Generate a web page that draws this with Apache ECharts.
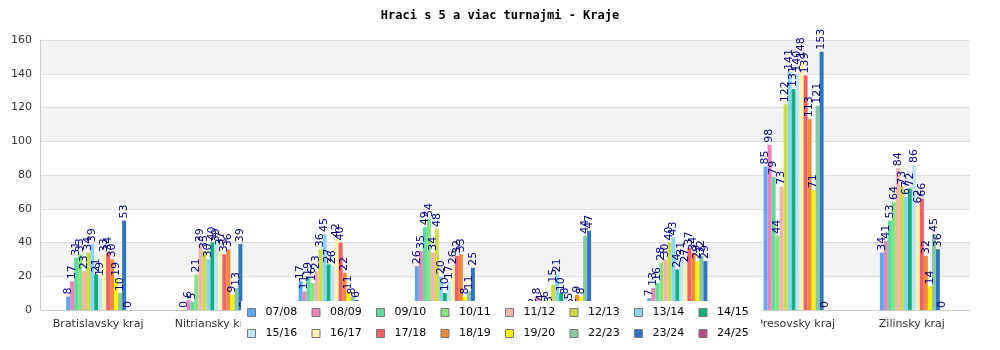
<!DOCTYPE html>
<html>
<head>
<meta charset="utf-8">
<script src="https://cdn.jsdelivr.net/npm/echarts@6/dist/echarts.min.js"></script>
<style>
  html, body { margin: 0; padding: 0; background: #fff; }
  #chart { width: 1000px; height: 350px; }
</style>
</head>
<body>
<div id="chart"></div>
<script>
// Regions on the category axis
const regions = [
  'Bratislavsky kraj', 'Nitriansky kraj', 'Trnavsky kraj', 'Trenciansky kraj',
  'Banskobystricky kraj', 'Kosicky kraj', 'Presovsky kraj', 'Zilinsky kraj'
];

// Seasons (one bar per season in every region)
const seasons = [
  '07/08', '08/09', '09/10', '10/11', '11/12', '12/13', '13/14', '14/15',
  '15/16', '16/17', '17/18', '18/19', '19/20', '22/23', '23/24', '24/25'
];

// Players with 5+ tournaments, per season, in region order
const s0708 = [8, 0, 17, 26, 2, 7, 85, 34];
const s0809 = [17, 6, 11, 35, 8, 13, 98, 41];
const s0910 = [31, 5, 19, 49, 4, 16, 79, 53];
const s1011 = [33, 21, 16, 54, 6, 28, 44, 64];
const s1112 = [23, 39, 23, 34, 3, 30, 73, 84];
const s1213 = [34, 35, 36, 48, 15, 40, 122, 73];
const s1314 = [39, 30, 45, 20, 21, 43, 141, 67];
const s1415 = [21, 40, 27, 10, 10, 24, 131, 72];
const s1516 = [19, 39, 26, 17, 8, 31, 140, 86];
const s1617 = [33, 37, 42, 26, 5, 27, 148, 62];
const s1718 = [34, 33, 40, 32, 2, 37, 139, 66];
const s1819 = [30, 36, 22, 33, 9, 34, 113, 32];
const s1920 = [19, 9, 11, 8, 8, 29, 71, 14];
const s2223 = [10, 13, 8, 11, 44, 32, 121, 45];
const s2324 = [53, 39, 6, 25, 47, 29, 153, 36];
const s2425 = [0, 0, 0, 0, 0, 0, 0, 0];

const seasonValues = [
  s0708, s0809, s0910, s1011, s1112, s1213, s1314, s1415,
  s1516, s1617, s1718, s1819, s1920, s2223, s2324, s2425
];

const seasonColors = [
  '#5fa7ef', '#ec83b9', '#5fdba0', '#86e47e', '#f5b3ae', '#cddc45', '#8ad6ef', '#12ae7c',
  '#bfe3f7', '#fff2ad', '#ef6166', '#ef8a38', '#fff200', '#86c8a0', '#2f75c0', '#b94a87'
];

// Y axis ticks
const yMin = 0, yMax = 160, yStep = 20;

const series = seasons.map((name, i) => ({
  name: name,
  type: 'bar',
  data: seasonValues[i],
  barWidth: 4,
  barGap: '0%',
  itemStyle: { color: seasonColors[i] },
  label: {
    show: true,
    position: 'top',
    rotate: 90,
    align: 'left',
    verticalAlign: 'middle',
    distance: 3,
    offset: [-1, 0],
    color: '#000080',
    fontSize: 11,
    fontFamily: 'DejaVu Sans'
  }
}));

const chart = echarts.init(document.getElementById('chart'), null, { renderer: 'canvas' });
chart.setOption({
  animation: false,
  backgroundColor: '#ffffff',
  title: {
    text: 'Hraci s 5 a viac turnajmi - Kraje',
    left: 'center',
    top: 5,
    textStyle: {
      fontFamily: 'DejaVu Sans Mono',
      fontWeight: 'bold',
      fontSize: 12,
      color: '#000'
    }
  },
  grid: { left: 40, right: 30, top: 40, bottom: 40 },
  legend: {
    data: seasons,
    left: 241,
    top: 301,
    width: 520,
    padding: [5, 6, 5, 6],
    backgroundColor: '#ffffff',
    itemWidth: 8,
    itemHeight: 8,
    itemGap: 8,
    icon: 'rect',
    itemStyle: { borderColor: '#777', borderWidth: 1 },
    textStyle: {
      fontFamily: 'DejaVu Sans',
      fontSize: 11,
      color: '#000',
      width: 38,
      lineHeight: 13,
      padding: [0, 0, 0, 5]
    }
  },
  xAxis: {
    type: 'category',
    data: regions,
    axisLine: { lineStyle: { color: '#cccccc' } },
    axisTick: { show: false },
    axisLabel: {
      interval: 0,
      fontFamily: 'DejaVu Sans',
      fontSize: 11,
      color: '#333',
      margin: 9
    }
  },
  yAxis: {
    type: 'value',
    min: yMin,
    max: yMax,
    interval: yStep,
    axisLine: { show: true, lineStyle: { color: '#cccccc' } },
    axisTick: { show: false },
    axisLabel: {
      fontFamily: 'DejaVu Sans',
      fontSize: 11,
      color: '#333',
      margin: 8
    },
    splitLine: { show: true, lineStyle: { color: '#dddddd' } },
    splitArea: { show: true, areaStyle: { color: ['#ffffff', '#f3f3f3'] } }
  },
  series: series
});
</script>
</body>
</html>
